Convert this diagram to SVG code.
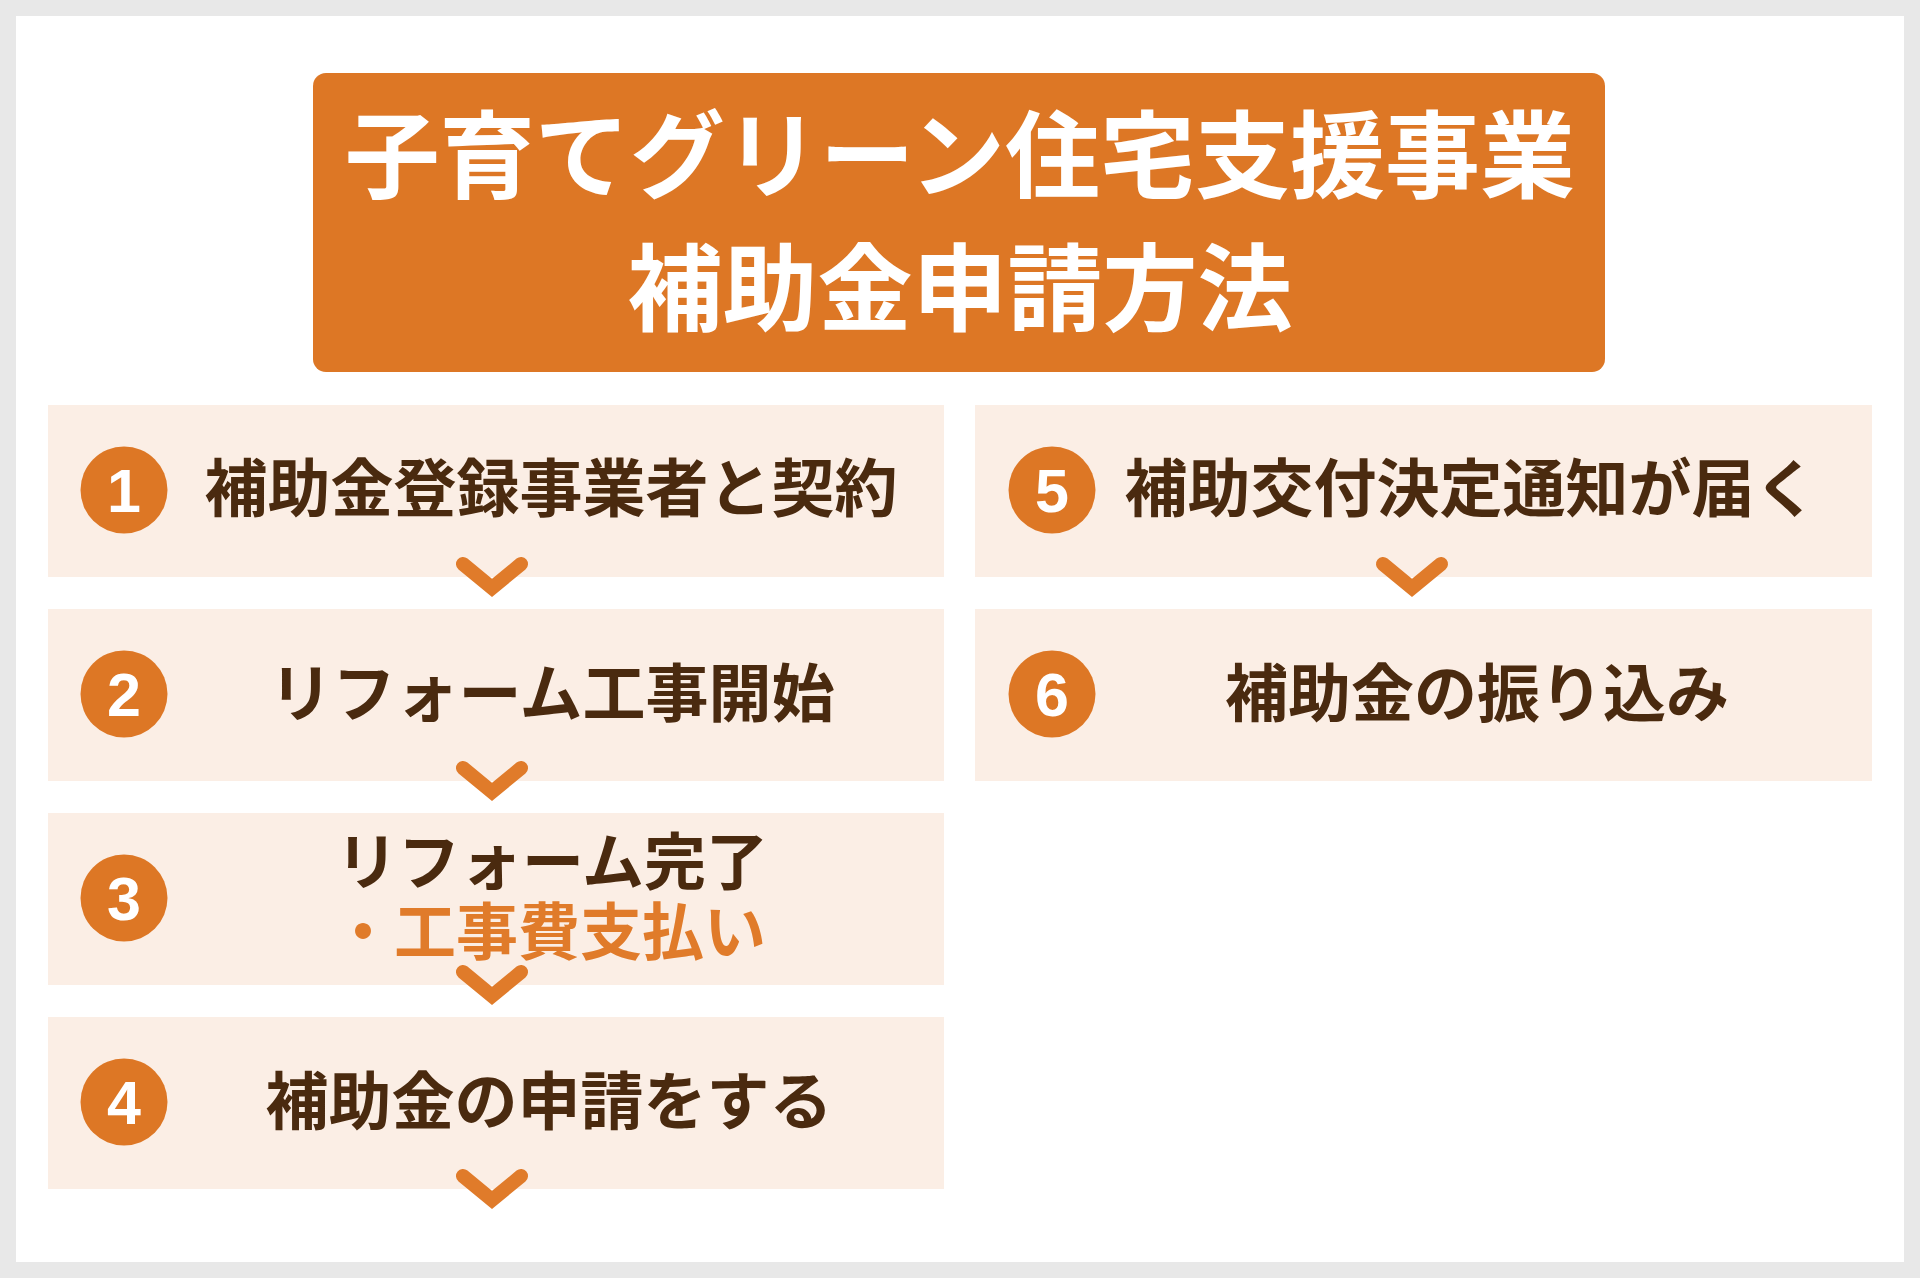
<svg xmlns="http://www.w3.org/2000/svg" width="1920" height="1278" viewBox="0 0 1920 1278">
<style>
.bg{fill:#e8e8e8}
.panel{fill:#ffffff}
.title-box{fill:#dd7725}
.title{font-family:"Noto Sans CJK JP","Noto Sans CJK SC",sans-serif;font-weight:700;font-size:95px;fill:#ffffff;text-anchor:middle}
.step{fill:#fbeee5}
.num-circle{fill:#dd7725}
.num{font-family:"Liberation Sans",Arial,sans-serif;font-weight:700;font-size:61px;fill:#ffffff;text-anchor:middle}
.label{font-family:"Noto Sans CJK JP","Noto Sans CJK SC",sans-serif;font-weight:700;font-size:63px;fill:#4a2a0f;text-anchor:middle}
.label-sm{font-size:62px}
.accent{fill:#e07b2a}
.chev{fill:none;stroke:#e07b2a;stroke-width:14;stroke-linecap:round;stroke-linejoin:miter}
</style>
<rect class="bg" x="0" y="0" width="1920" height="1278"/>
<rect class="panel" x="16" y="16" width="1888" height="1246"/>

<g id="title">
<rect class="title-box" x="313" y="73" width="1292" height="299" rx="13"/>
<text class="title" x="960" y="191">子育てグリーン住宅支援事業</text>
<text class="title" x="960" y="324">補助金申請方法</text>
</g>

<g id="step1">
<rect class="step" x="48" y="405" width="896" height="172"/>
<circle class="num-circle" cx="124" cy="490" r="43.5"/>
<text class="num" x="124" y="512">1</text>
<text class="label" x="551" y="511">補助金登録事業者と契約</text>
</g>

<g id="step2">
<rect class="step" x="48" y="609" width="896" height="172"/>
<circle class="num-circle" cx="124" cy="694" r="43.5"/>
<text class="num" x="124" y="716">2</text>
<text class="label" x="552" y="716">リフォーム工事開始</text>
</g>

<g id="step3">
<rect class="step" x="48" y="813" width="896" height="172"/>
<circle class="num-circle" cx="124" cy="898" r="43.5"/>
<text class="num" x="124" y="920">3</text>
<text class="label label-sm"><tspan x="552" y="885">リフォーム完了</tspan><tspan class="accent" x="549" y="955">・工事費支払い</tspan></text>
</g>

<g id="step4">
<rect class="step" x="48" y="1017" width="896" height="172"/>
<circle class="num-circle" cx="124" cy="1102" r="43.5"/>
<text class="num" x="124" y="1124">4</text>
<text class="label" x="549" y="1124">補助金の申請をする</text>
</g>

<g id="step5">
<rect class="step" x="975" y="405" width="897" height="172"/>
<circle class="num-circle" cx="1052" cy="490" r="43.5"/>
<text class="num" x="1052" y="512">5</text>
<text class="label" x="1471" y="511">補助交付決定通知が届く</text>
</g>

<g id="step6">
<rect class="step" x="975" y="609" width="897" height="172"/>
<circle class="num-circle" cx="1052" cy="694" r="43.5"/>
<text class="num" x="1052" y="716">6</text>
<text class="label" x="1477" y="716">補助金の振り込み</text>
</g>

<g id="connectors">
<path class="chev" d="M463 564 L492 588 L521 564"/>
<path class="chev" d="M463 768 L492 792 L521 768"/>
<path class="chev" d="M463 972 L492 996 L521 972"/>
<path class="chev" d="M463 1176 L492 1200 L521 1176"/>
<path class="chev" d="M1383 564 L1412 588 L1441 564"/>
</g>
</svg>
